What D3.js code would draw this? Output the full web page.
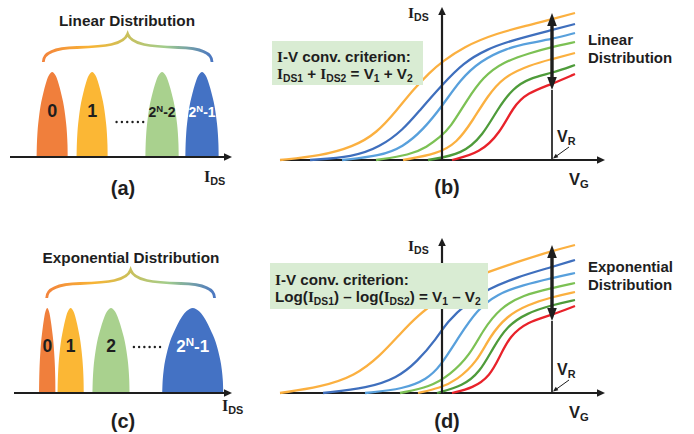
<!DOCTYPE html>
<html>
<head>
<meta charset="utf-8">
<script src="https://cdn.jsdelivr.net/npm/d3@7"></script>
<style>
  body { margin: 0; background: #fff; }
  svg { display: block; }
  text { font-family: "Liberation Sans", Arial, sans-serif; font-weight: bold; fill: #1e1e1e; white-space: pre; }
</style>
</head>
<body>
<svg id="chart" width="694" height="434"></svg>
<script>
// ---- data: distribution panels (I_DS in arbitrary units 0..100) ----
var linearLevels = ["0", "1", "2^N-2", "2^N-1"];
var linearLo = [12, 30, 61, 79];
var linearHi = [26, 44, 76, 94];
var expLevels = ["0", "1", "2", "2^N-1"];
var expLo = [11.5, 20, 36, 68];
var expHi = [19, 32, 53, 96];
var levelColors = ["#f07f3c", "#fbb735", "#a9d18e", "#4472c4"];
var levelTextColors = ["#1e1e1e", "#1e1e1e", "#1e1e1e", "#ffffff"];

// normalised half-profile of one level (u = offset from centre, h = relative height)
var bumpProfile = [[0, 1], [0.2, 0.965], [0.35, 0.9], [0.5, 0.805], [0.65, 0.69], [0.75, 0.6], [0.83, 0.5], [0.9, 0.39], [0.95, 0.28], [0.985, 0.15], [1, 0]];

// ---- data: I-V curves, [V_G, I_DS] in arbitrary units ----
var curveColors = ["#fbb040", "#3f6fbd", "#58a0dc", "#7cc154", "#fbb040", "#4e9b3a", "#e8222a"];

var linCurve1 = [[0,0],[40,4],[73,13],[97,27],[117,50],[133,70],[150,88],[162,98],[183,113],[217,127],[250,135],[272,141],[295,147]];
var linCurve2 = [[30,0],[73,3],[100,13],[123,30],[140,50],[162,75],[183,97],[207,111],[233,120],[272,130],[295,136]];
var linCurve3 = [[62,0],[100,4],[123,13],[143,30],[163,55],[180,80],[200,99],[227,112],[250,117],[272,121],[295,127]];
var linCurve4 = [[96,0],[130,5],[147,13],[160,23],[170,32],[187,60],[203,83],[223,98],[250,107],[272,113],[295,118]];
var linCurve5 = [[123,0],[157,6],[177,17],[193,40],[207,63],[223,83],[250,95],[272,101],[295,107]];
var linCurve6 = [[148,0],[183,6],[203,25],[217,50],[233,72],[250,82],[272,87],[295,95]];
var linCurve7 = [[172,0],[200,7],[220,27],[233,53],[247,67],[272,76],[295,86]];

var expCurve1 = [[0,0],[41,6],[75,17],[100,37],[120,59],[137,77],[162,96],[185,112],[208,121],[240,132],[272,142],[295,148]];
var expCurve2 = [[43,0],[88,5],[117,15],[137,31],[157,55],[167,71],[187,90],[208,104],[237,116],[272,126],[295,133]];
var expCurve3 = [[85,0],[124,4],[147,14],[160,26],[180,58],[197,83],[217,99],[243,108],[272,115],[295,120]];
var expCurve4 = [[120,0],[150,6],[170,18],[190,38],[203,63],[220,85],[243,98],[272,105],[295,110]];
var expCurve5 = [[138,0],[160,5],[177,13],[197,31],[210,57],[227,77],[247,88],[272,96],[295,101]];
var expCurve6 = [[157,0],[183,7],[200,21],[213,45],[227,67],[247,80],[272,88],[295,93]];
var expCurve7 = [[172,0],[193,5],[210,17],[220,37],[230,57],[247,71],[272,78],[295,87]];

var readVG = 272;   // V_R position on the V_G axis
var axisVG = 162;   // where the I_DS axis crosses

var ink = "#1e1e1e";
var serifI = "'Liberation Serif', 'DejaVu Serif', serif";
var svg = d3.select("#chart");
var defs = svg.append("defs");

// text with sub/superscripts; segs = [[text, kind]]
function rich(g, x, y, segs, size, anchor, color) {
  var t = g.append("text").attr("x", x).attr("y", y)
    .style("font-size", size + "px")
    .attr("text-anchor", anchor || "start");
  if (color) t.style("fill", color);
  var cur = 0;
  segs.forEach(function(s) {
    var kind = s[1] || "n";
    var off = kind === "sub" ? size * 0.17 : kind === "sup" ? -size * 0.38 : 0;
    var sp = t.append("tspan").text(s[0]).attr("dy", off - cur);
    if (kind === "sub" || kind === "sup") sp.style("font-size", (size * 0.68) + "px");
    if (kind === "I") sp.style("font-family", serifI);
    cur = off;
  });
  return t;
}

function parseLevel(s) {
  var m = s.match(/^(.*)\^(N)(.*)$/);
  return m ? [[m[1]], [m[2], "sup"], [m[3]]] : [[s]];
}

function arrowHead(g, tip, from, len, half) {
  var dx = tip[0] - from[0], dy = tip[1] - from[1];
  var n = Math.sqrt(dx * dx + dy * dy); dx /= n; dy /= n;
  var bx = tip[0] - dx * len, by = tip[1] - dy * len;
  g.append("path")
    .attr("d", "M" + tip[0] + "," + tip[1] +
      "L" + (bx - dy * half) + "," + (by + dx * half) +
      "L" + (bx + dy * half) + "," + (by - dx * half) + "Z")
    .attr("fill", ink);
}

function drawDistribution(cfg) {
  var g = svg.append("g");
  var x = d3.scaleLinear().domain([0, 100]).range([cfg.x0, cfg.x1]);
  var y = d3.scaleLinear().domain([0, 1]).range([cfg.base, cfg.base - 85]);

  // brace with colour gradient
  var bx0 = x(cfg.brace[0]), bx1 = x(cfg.brace[1]), bm = (bx0 + bx1) / 2, w = bm - bx0;
  var yE = cfg.base - 95, yT = cfg.base - 123;
  var grad = defs.append("linearGradient").attr("id", cfg.id + "grad")
    .attr("gradientUnits", "userSpaceOnUse")
    .attr("x1", bx0).attr("x2", bx1).attr("y1", 0).attr("y2", 0);
  [["0", "#f3843c"], ["0.28", "#f8b434"], ["0.5", "#c9c05c"], ["0.72", "#a2cd8c"], ["1", "#4a76c1"]]
    .forEach(function(s) { grad.append("stop").attr("offset", s[0]).attr("stop-color", s[1]); });
  var p = d3.path();
  p.moveTo(bx0, yE);
  p.bezierCurveTo(bx0, yE - 10, bx0 + 12, yE - 14, bx0 + 0.4 * w, yE - 14.5);
  p.bezierCurveTo(bx0 + 0.73 * w, yE - 15.5, bm - 4, yE - 17, bm, yT);
  p.bezierCurveTo(bm + 4, yE - 17, bx1 - 0.73 * w, yE - 15.5, bx1 - 0.4 * w, yE - 14.5);
  p.bezierCurveTo(bx1 - 12, yE - 14, bx1, yE - 10, bx1, yE);
  g.append("path").attr("d", p.toString()).attr("fill", "none")
    .attr("stroke", "url(#" + cfg.id + "grad)").attr("stroke-width", 2.8);

  // levels
  var area = d3.area().x(function(d) { return x(d[0]); })
    .y0(y(0)).y1(function(d) { return y(d[1]); }).curve(d3.curveCatmullRom.alpha(0.5));
  cfg.levels.forEach(function(lab, i) {
    var c = (cfg.lo[i] + cfg.hi[i]) / 2, hw = (cfg.hi[i] - cfg.lo[i]) / 2;
    var left = bumpProfile.slice().reverse().map(function(q) { return [c - q[0] * hw, q[1]]; });
    var right = bumpProfile.slice(1).map(function(q) { return [c + q[0] * hw, q[1]]; });
    g.append("path").attr("d", area(left.concat(right))).attr("fill", levelColors[i]);
    var segs = parseLevel(lab);
    rich(g, x(c), cfg.base - cfg.labelLift, segs, segs.length > 1 ? cfg.powSize : cfg.digitSize,
      "middle", levelTextColors[i]);
  });

  // dots between levels
  var dotX = d3.range(6).map(function(k) { return cfg.dots[0] + k * (cfg.dots[1] - cfg.dots[0]) / 5; });
  g.selectAll("circle.dot").data(dotX).join("circle")
    .attr("cx", function(d) { return x(d); }).attr("cy", cfg.base - cfg.dotLift)
    .attr("r", 1.2).attr("fill", ink);

  // axis
  g.append("line").attr("x1", x(0)).attr("x2", x(100) - 6)
    .attr("y1", cfg.base).attr("y2", cfg.base)
    .attr("stroke", ink).attr("stroke-width", 2.2);
  arrowHead(g, [x(100), cfg.base], [x(0), cfg.base], 8, 3.8);

  rich(g, cfg.titleX, cfg.titleY, [[cfg.title]], 15.3, "middle");
  rich(g, cfg.idsX, cfg.idsY, [["I", "I"], ["DS", "sub"]], 16);
  rich(g, cfg.tagX, cfg.tagY, [[cfg.tag]], 20, "middle");
}

function drawIV(cfg) {
  var g = svg.append("g");
  var x = d3.scaleLinear().domain([0, 300]).range([280, 580]);
  var y = d3.scaleLinear().domain([0, 150]).range([cfg.base, cfg.base - 150]);

  // V_G axis
  g.append("line").attr("x1", x(0)).attr("x2", x(325) - 6)
    .attr("y1", y(0)).attr("y2", y(0)).attr("stroke", ink).attr("stroke-width", 2.2);
  arrowHead(g, [x(325), y(0)], [x(0), y(0)], 8, 3.8);

  // curves
  var line = d3.line().x(function(d) { return x(d[0]); }).y(function(d) { return y(d[1]); })
    .curve(d3.curveBasis);
  g.selectAll("path.iv").data(cfg.curves).join("path")
    .attr("class", "iv").attr("d", line).attr("fill", "none")
    .attr("stroke", function(d, i) { return curveColors[i]; })
    .attr("stroke-width", 2.3);

  // I_DS axis
  g.append("line").attr("x1", x(axisVG)).attr("x2", x(axisVG))
    .attr("y1", y(0)).attr("y2", y(cfg.yTop) + 6).attr("stroke", ink).attr("stroke-width", 2.2);
  arrowHead(g, [x(axisVG), y(cfg.yTop)], [x(axisVG), y(0)], 8, 3.8);

  // spread arrow at V_R
  var topV = cfg.curves[0].find(function(d) { return d[0] === readVG; })[1];
  var botV = cfg.curves[cfg.curves.length - 1].find(function(d) { return d[0] === readVG; })[1];
  var ax = x(readVG), tTop = y(topV) - 6, tBot = y(botV) + 6;
  g.append("line").attr("x1", ax).attr("x2", ax).attr("y1", tBot).attr("y2", y(0))
    .attr("stroke", ink).attr("stroke-width", 1.7);
  g.append("line").attr("x1", ax).attr("x2", ax).attr("y1", tTop + 10).attr("y2", tBot - 10)
    .attr("stroke", ink).attr("stroke-width", 3.4);
  arrowHead(g, [ax, tTop], [ax, tBot], 13, 4.8);
  arrowHead(g, [ax, tBot], [ax, tTop], 13, 4.8);

  // V_R pointer
  var pFrom = [ax + 17, y(0) - 13], pTip = [ax + 1, y(0) - 1.5];
  g.append("line").attr("x1", pFrom[0]).attr("y1", pFrom[1]).attr("x2", pTip[0] + 3.5).attr("y2", pTip[1] - 2.5)
    .attr("stroke", ink).attr("stroke-width", 1);
  arrowHead(g, pTip, pFrom, 5, 2.2);

  // criterion box
  g.append("rect").attr("x", cfg.box[0]).attr("y", cfg.box[1])
    .attr("width", cfg.box[2] - cfg.box[0]).attr("height", cfg.box[3] - cfg.box[1])
    .attr("fill", "#d9ecd3");
  rich(g, cfg.box[0] + 5, cfg.line1Y, cfg.line1, 15.2);
  rich(g, cfg.box[0] + 5, cfg.line2Y, cfg.line2, 15.2);

  // labels
  rich(g, x(axisVG) - 34, cfg.idsY, [["I", "I"], ["DS", "sub"]], 15.5);
  rich(g, x(289), y(0) + 25, [["V"], ["G", "sub"]], 16.5);
  rich(g, ax + 5, y(0) - 18, [["V"], ["R", "sub"]], 16);
  rich(g, x(308), cfg.nameY, [[cfg.name]], 15);
  rich(g, x(308), cfg.nameY + 18, [["Distribution"]], 15);
  rich(g, x(167), cfg.tagY, [[cfg.tag]], 20, "middle");
}

drawDistribution({
  id: "a", x0: 10, x1: 232, base: 157, brace: [15, 91],
  levels: linearLevels, lo: linearLo, hi: linearHi,
  digitSize: 18, powSize: 14, labelLift: 40, dots: [48, 60], dotLift: 35,
  title: "Linear Distribution", titleX: 127, titleY: 26,
  idsX: 204, idsY: 182, tag: "(a)", tagX: 123, tagY: 195
});

drawDistribution({
  id: "c", x0: 14, x1: 232, base: 393, brace: [15, 92],
  levels: expLevels, lo: expLo, hi: expHi,
  digitSize: 17.5, powSize: 17, labelLift: 41, dots: [55, 67], dotLift: 46,
  title: "Exponential Distribution", titleX: 131, titleY: 263,
  idsX: 222, idsY: 411, tag: "(c)", tagX: 123, tagY: 428
});

drawIV({
  base: 160, yTop: 153,
  curves: [linCurve1, linCurve2, linCurve3, linCurve4, linCurve5, linCurve6, linCurve7],
  box: [272, 41, 423, 85],
  line1: [["I", "I"], ["-V conv. criterion:"]], line1Y: 62,
  line2: [["I", "I"], ["DS1", "sub"], [" + "], ["I", "I"], ["DS2", "sub"], [" = V"], ["1", "sub"], [" + V"], ["2", "sub"]], line2Y: 79,
  idsY: 18, name: "Linear", nameY: 45, tag: "(b)", tagY: 194
});

drawIV({
  base: 393, yTop: 155,
  curves: [expCurve1, expCurve2, expCurve3, expCurve4, expCurve5, expCurve6, expCurve7],
  box: [270, 263, 488, 309],
  line1: [["I", "I"], ["-V conv. criterion:"]], line1Y: 285,
  line2: [["Log("], ["I", "I"], ["DS1", "sub"], [") \u2013 log("], ["I", "I"], ["DS2", "sub"], [") = V"], ["1", "sub"], [" \u2013 V"], ["2", "sub"]], line2Y: 302,
  idsY: 251, name: "Exponential", nameY: 272, tag: "(d)", tagY: 428
});
</script>
</body>
</html>
